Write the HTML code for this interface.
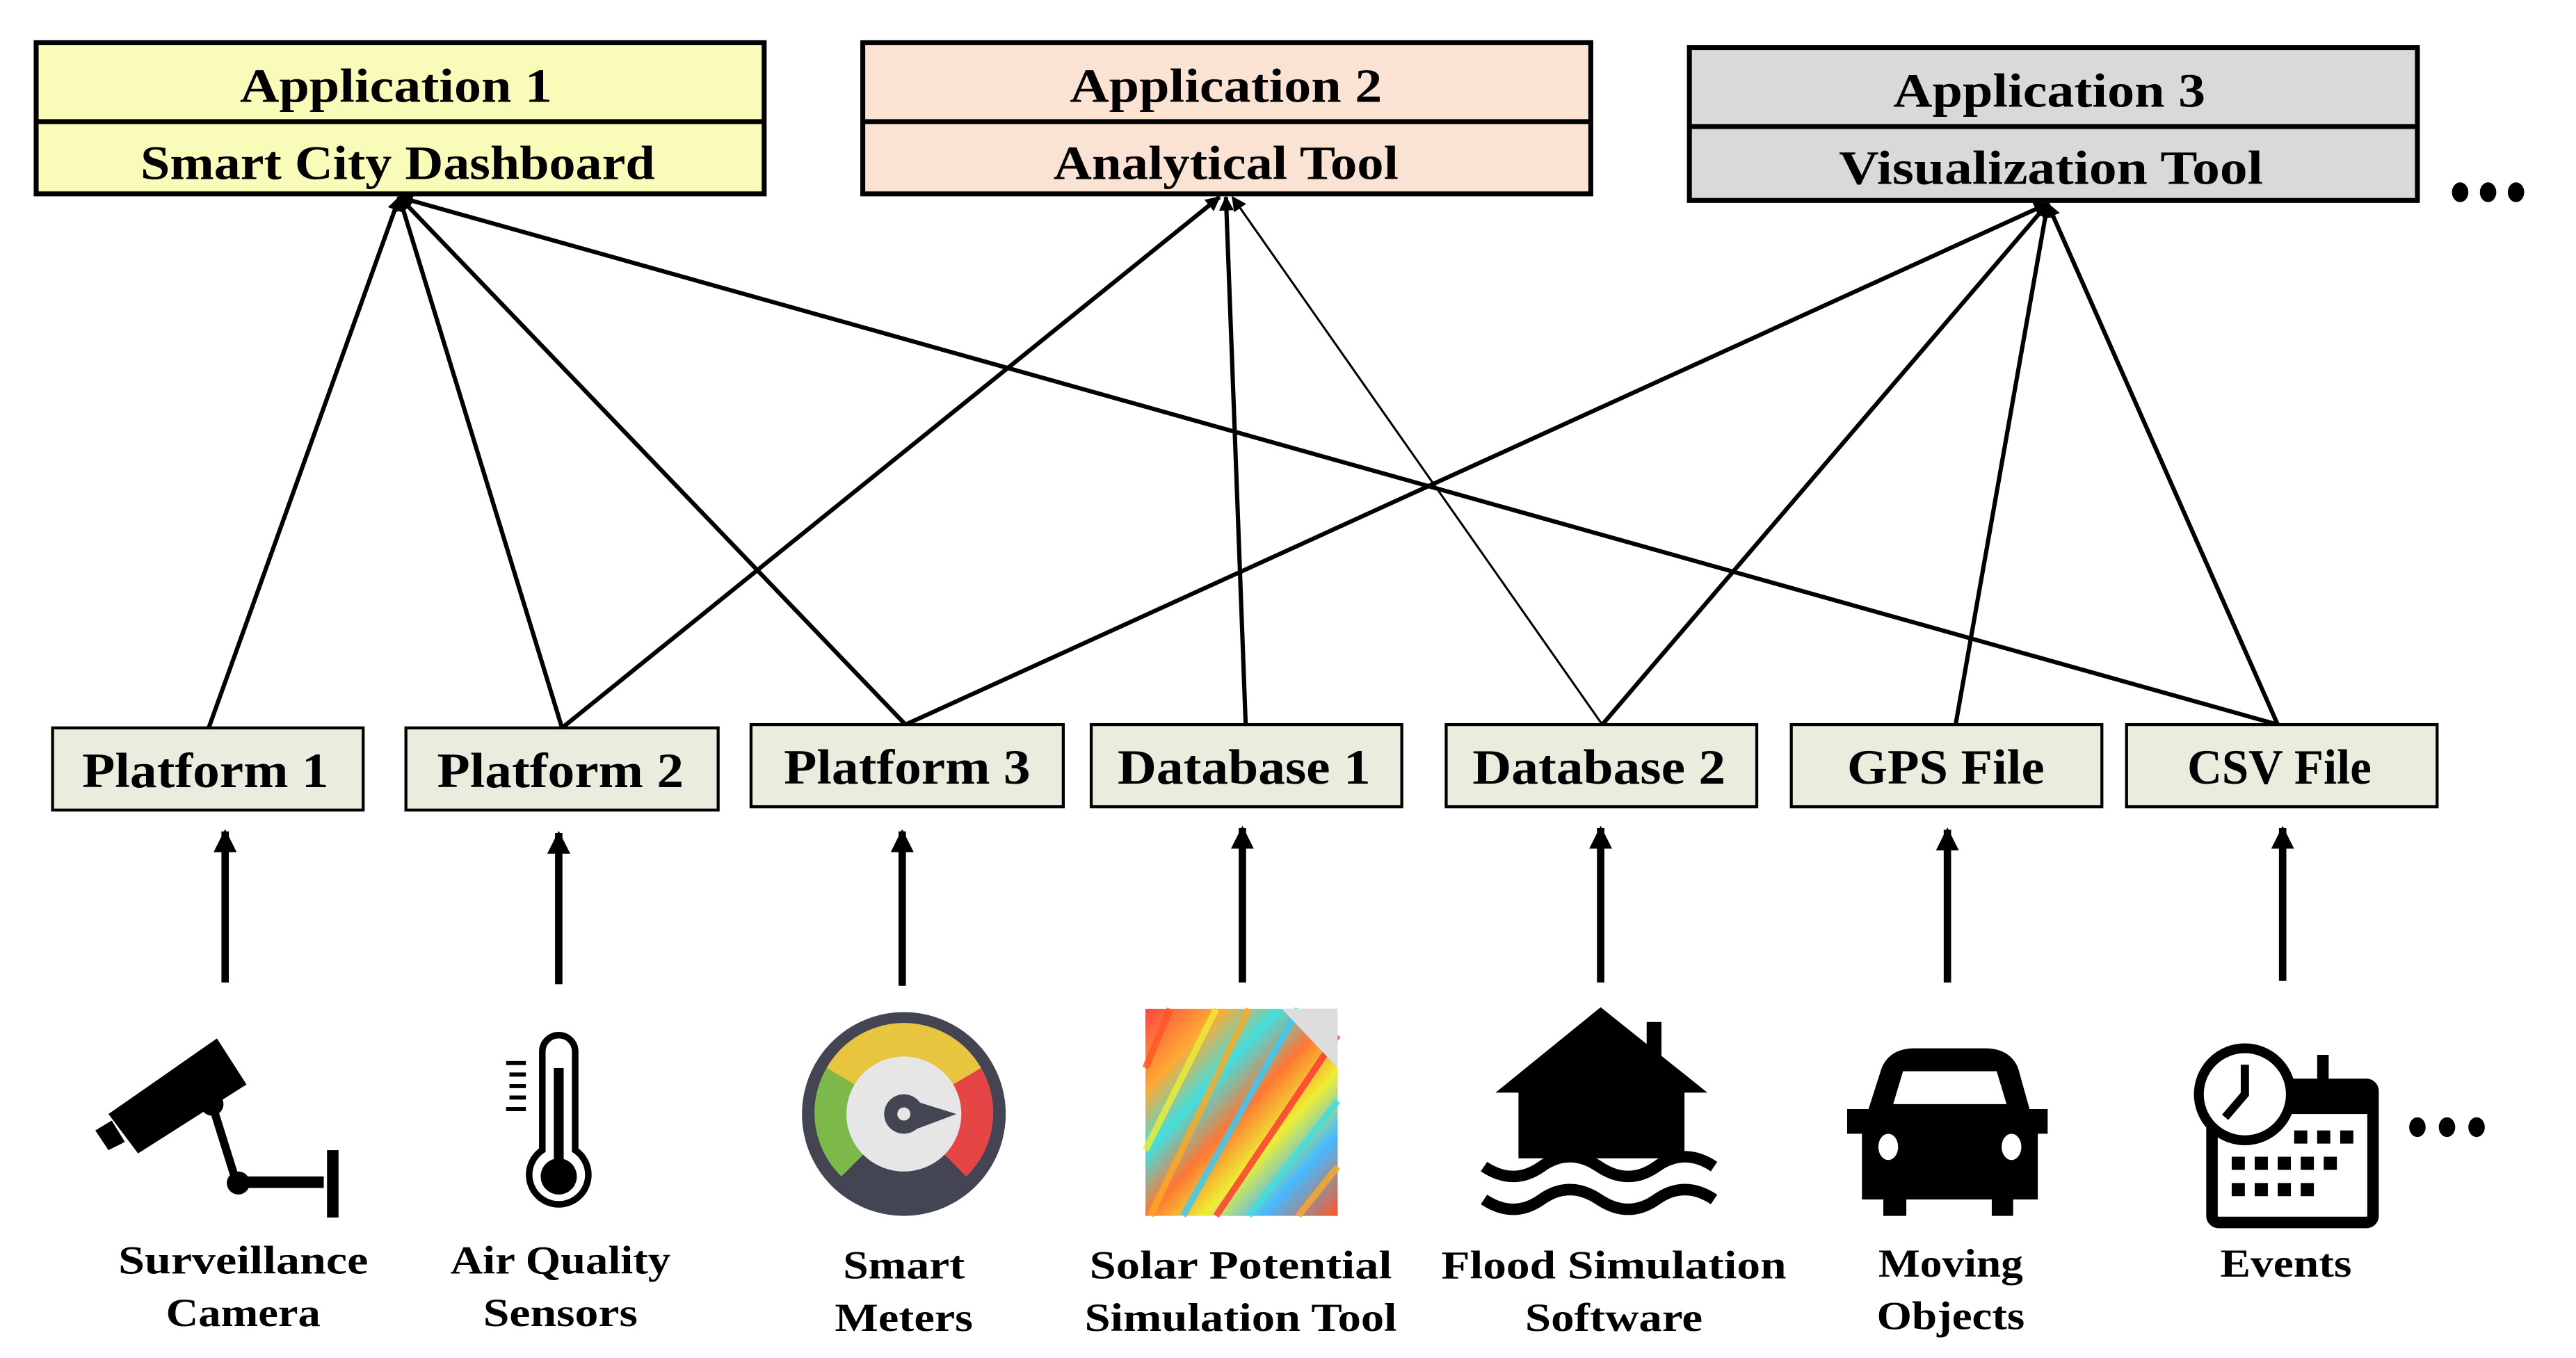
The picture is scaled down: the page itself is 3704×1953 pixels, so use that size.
<!DOCTYPE html>
<html><head><meta charset="utf-8"><style>html,body{margin:0;padding:0;background:#fff}svg{display:block}</style></head>
<body>
<svg width="3704" height="1953" viewBox="0 0 1567.5 826.5" preserveAspectRatio="none" xmlns="http://www.w3.org/2000/svg" font-family="Liberation Serif, serif" font-weight="bold">
<defs>
<marker id="ah" viewBox="0 0 10 10" refX="9" refY="5" markerWidth="9" markerHeight="9" markerUnits="userSpaceOnUse" orient="auto"><path d="M0,0 L10,5 L0,10 z" fill="#000"/></marker>
<marker id="ab" viewBox="0 0 10 10" refX="9" refY="5" markerWidth="14" markerHeight="14" markerUnits="userSpaceOnUse" orient="auto"><path d="M0,0 L10,5 L0,10 z" fill="#000"/></marker>
<linearGradient id="sol" x1="0" y1="0" x2="1" y2="1">
<stop offset="0" stop-color="#f44"/><stop offset="0.2" stop-color="#fa3"/><stop offset="0.35" stop-color="#4dd"/><stop offset="0.5" stop-color="#f73"/><stop offset="0.65" stop-color="#ee3"/><stop offset="0.8" stop-color="#4bf"/><stop offset="1" stop-color="#f52"/></linearGradient>
</defs>
<g stroke="#000" stroke-width="3">
<rect x="22" y="26" width="443" height="92" fill="#f9fbb8"/><line x1="22" y1="74" x2="465" y2="74"/>
<rect x="525" y="26" width="443" height="92" fill="#fbe3d4"/><line x1="525" y1="74" x2="968" y2="74"/>
<rect x="1028" y="29" width="443" height="93" fill="#d9d9d9"/><line x1="1028" y1="77" x2="1471" y2="77"/>
</g>
<g font-size="29" text-anchor="middle" lengthAdjust="spacingAndGlyphs">
<text x="241" y="62" textLength="190" lengthAdjust="spacingAndGlyphs">Application 1</text><text x="242" y="109" textLength="313" lengthAdjust="spacingAndGlyphs">Smart City Dashboard</text>
<text x="746" y="62" textLength="190" lengthAdjust="spacingAndGlyphs">Application 2</text><text x="746" y="109" textLength="210" lengthAdjust="spacingAndGlyphs">Analytical Tool</text>
<text x="1247" y="65" textLength="190" lengthAdjust="spacingAndGlyphs">Application 3</text><text x="1248" y="112" textLength="258" lengthAdjust="spacingAndGlyphs">Visualization Tool</text>
</g>
<g fill="#000"><ellipse cx="1497" cy="117" rx="5" ry="6"/><ellipse cx="1514" cy="117" rx="5" ry="6"/><ellipse cx="1531" cy="117" rx="5" ry="6"/></g>
<g stroke="#000" stroke-width="2.6" fill="none" marker-end="url(#ah)">
<line x1="127" y1="443" x2="243" y2="120"/>
<line x1="342" y1="443" x2="243" y2="120"/>
<line x1="551" y1="441" x2="243" y2="120"/>
<line x1="1386" y1="441" x2="243" y2="120"/>
<line x1="342" y1="443" x2="742" y2="120"/>
<line x1="758" y1="441" x2="746" y2="120"/>
<line x1="975" y1="441" x2="750" y2="120" stroke-width="1.3"/>
<line x1="551" y1="441" x2="1246" y2="124"/>
<line x1="975" y1="441" x2="1246" y2="124"/>
<line x1="1190" y1="441" x2="1246" y2="124"/>
<line x1="1386" y1="441" x2="1246" y2="124"/>
</g>
<g stroke="#000" stroke-width="1.8" fill="#ebecdd">
<rect x="32" y="443" width="189" height="50"/><rect x="247" y="443" width="190" height="50"/><rect x="457" y="441" width="190" height="50"/>
<rect x="664" y="441" width="189" height="50"/><rect x="880" y="441" width="189" height="50"/><rect x="1090" y="441" width="189" height="50"/><rect x="1294" y="441" width="189" height="50"/>
</g>
<g font-size="30" text-anchor="middle">
<text x="125" y="479" textLength="150" lengthAdjust="spacingAndGlyphs">Platform 1</text><text x="341" y="479" textLength="150" lengthAdjust="spacingAndGlyphs">Platform 2</text><text x="552" y="477" textLength="150" lengthAdjust="spacingAndGlyphs">Platform 3</text>
<text x="757" y="477" textLength="154" lengthAdjust="spacingAndGlyphs">Database 1</text><text x="973" y="477" textLength="154" lengthAdjust="spacingAndGlyphs">Database 2</text><text x="1184" y="477" textLength="120" lengthAdjust="spacingAndGlyphs">GPS File</text><text x="1387" y="477" textLength="112" lengthAdjust="spacingAndGlyphs">CSV File</text>
</g>
<g stroke="#000" stroke-width="4.5" marker-end="url(#ab)">
<line x1="137" y1="598" x2="137" y2="506"/><line x1="340" y1="599" x2="340" y2="507"/><line x1="549" y1="600" x2="549" y2="506"/>
<line x1="756" y1="598" x2="756" y2="504"/><line x1="974" y1="598" x2="974" y2="504"/><line x1="1185" y1="598" x2="1185" y2="505"/><line x1="1389" y1="597" x2="1389" y2="504"/>
</g>
<g fill="#000">
<polygon points="66,678 132,632 150,660 84,702"/><polygon points="58,688 68,682 76,695 66,700"/>
<circle cx="129" cy="672" r="7"/><line x1="129" y1="672" x2="144" y2="720" stroke="#000" stroke-width="5"/>
<circle cx="145" cy="720" r="7"/><rect x="145" y="716" width="52" height="7"/><rect x="199" y="700" width="7" height="41"/>
</g>
<g fill="none" stroke="#000" stroke-width="4">
<path d="M330,700 V640 a10,10 0 0 1 20,0 V700 a18,18 0 1 1 -20,0 z"/>
</g>
<rect x="337" y="650" width="6" height="60" fill="#000"/><circle cx="340" cy="716" r="11" fill="#000"/>
<g stroke="#000" stroke-width="2.5"><line x1="308" y1="647" x2="320" y2="647"/><line x1="310" y1="654" x2="320" y2="654"/><line x1="310" y1="661" x2="320" y2="661"/><line x1="310" y1="668" x2="320" y2="668"/><line x1="308" y1="675" x2="320" y2="675"/></g>
<circle cx="550" cy="678" r="62" fill="#434553"/>
<path d="M550,678 L503,650 A54,54 0 0 1 597,650 z" fill="#e8c53e"/>
<path d="M550,678 L503,650 A54,54 0 0 0 512,716 z" fill="#7cb94a"/>
<path d="M550,678 L597,650 A54,54 0 0 1 588,716 z" fill="#e64545"/>
<circle cx="550" cy="678" r="35" fill="#e6e6e6"/>
<circle cx="550" cy="678" r="12" fill="#434553"/><polygon points="550,668 582,678 550,690" fill="#434553"/><circle cx="550" cy="678" r="4" fill="#e6e6e6"/>
<rect x="697" y="614" width="117" height="126" fill="url(#sol)"/>
<g stroke-width="4" fill="none" opacity="0.8">
<path d="M700,740 L760,614" stroke="#fa2"/><path d="M720,740 L790,614" stroke="#3cf"/><path d="M740,740 L814,630" stroke="#f33"/><path d="M697,700 L740,614" stroke="#ee3"/><path d="M760,740 L814,670" stroke="#4dd"/><path d="M697,650 L712,614" stroke="#f52"/><path d="M790,740 L814,710" stroke="#fa2"/>
</g>
<polygon points="780,614 814,614 814,650" fill="#ddd"/>
<g fill="#000">
<polygon points="974,613 1039,665 1025,665 1025,705 924,705 924,665 910,665"/><rect x="1002" y="622" width="9" height="28"/>
</g>
<g fill="none" stroke="#000" stroke-width="7">
<path d="M903,710 q18,12 35,0 t35,0 t35,0 t35,0"/><path d="M903,730 q18,12 35,0 t35,0 t35,0 t35,0"/>
</g>
<g fill="#000">
<path d="M1145,650 Q1150,638 1165,638 H1208 Q1223,638 1228,650 L1235,675 H1246 V690 H1240 V730 H1225 V740 H1212 V730 H1160 V740 H1146 V730 H1133 V690 H1124 V675 H1137 z"/>
</g>
<path d="M1152,672 L1158,652 H1215 L1221,672 z" fill="#fff"/>
<ellipse cx="1149" cy="698" rx="6" ry="8" fill="#fff"/><ellipse cx="1224" cy="698" rx="6" ry="8" fill="#fff"/>
<g>
<rect x="1346" y="660" width="98" height="84" rx="4" fill="none" stroke="#000" stroke-width="7"/>
<rect x="1346" y="660" width="98" height="18" fill="#000"/>
<circle cx="1366" cy="666" r="28" fill="#fff" stroke="#000" stroke-width="6"/>
<path d="M1366,648 V666 L1354,680" fill="none" stroke="#000" stroke-width="5"/>
<rect x="1410" y="642" width="7" height="26" fill="#000"/>
<g fill="#000"><rect x="1396" y="688" width="8" height="8"/><rect x="1410" y="688" width="8" height="8"/><rect x="1424" y="688" width="8" height="8"/>
<rect x="1358" y="704" width="8" height="8"/><rect x="1372" y="704" width="8" height="8"/><rect x="1386" y="704" width="8" height="8"/><rect x="1400" y="704" width="8" height="8"/><rect x="1414" y="704" width="8" height="8"/>
<rect x="1358" y="720" width="8" height="8"/><rect x="1372" y="720" width="8" height="8"/><rect x="1386" y="720" width="8" height="8"/><rect x="1400" y="720" width="8" height="8"/></g>
</g>
<g fill="#000"><ellipse cx="1471" cy="686" rx="5" ry="6"/><ellipse cx="1489" cy="686" rx="5" ry="6"/><ellipse cx="1507" cy="686" rx="5" ry="6"/></g>
<g font-size="24" text-anchor="middle">
<text x="148" y="775" textLength="152" lengthAdjust="spacingAndGlyphs">Surveillance</text><text x="148" y="807" textLength="94" lengthAdjust="spacingAndGlyphs">Camera</text>
<text x="341" y="775" textLength="134" lengthAdjust="spacingAndGlyphs">Air Quality</text><text x="341" y="807" textLength="94" lengthAdjust="spacingAndGlyphs">Sensors</text>
<text x="550" y="778" textLength="74" lengthAdjust="spacingAndGlyphs">Smart</text><text x="550" y="810" textLength="84" lengthAdjust="spacingAndGlyphs">Meters</text>
<text x="755" y="778" textLength="184" lengthAdjust="spacingAndGlyphs">Solar Potential</text><text x="755" y="810" textLength="190" lengthAdjust="spacingAndGlyphs">Simulation Tool</text>
<text x="982" y="778" textLength="210" lengthAdjust="spacingAndGlyphs">Flood Simulation</text><text x="982" y="810" textLength="108" lengthAdjust="spacingAndGlyphs">Software</text>
<text x="1187" y="777" textLength="88" lengthAdjust="spacingAndGlyphs">Moving</text><text x="1187" y="809" textLength="90" lengthAdjust="spacingAndGlyphs">Objects</text>
<text x="1391" y="777" textLength="80" lengthAdjust="spacingAndGlyphs">Events</text>
</g>
</svg>
</body></html>
